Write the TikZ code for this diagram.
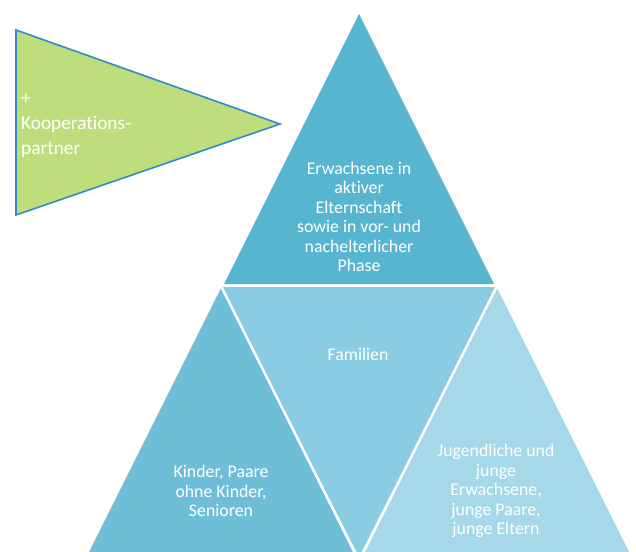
\documentclass[tikz,border=0pt]{standalone}
\usepackage{fontspec}
\setmainfont[Ligatures=NoCommon]{Carlito}
\definecolor{topblue}{RGB}{87,181,208}
\definecolor{leftblue}{RGB}{110,190,216}
\definecolor{midblue}{RGB}{138,204,225}
\definecolor{rightblue}{RGB}{165,216,232}
\definecolor{greenfill}{RGB}{190,222,125}
\definecolor{greenedge}{RGB}{52,137,200}
\begin{document}
\begin{tikzpicture}[x=1pt,y=-1pt,
  lbl/.style={text=white,align=center,font=\fontsize{17.8}{19.5}\selectfont,inner sep=0pt},
  gap/.style={draw=white,line width=2.5pt}]
\useasboundingbox (0,0) rectangle (636,551);
\begin{scope}
\clip (0,0) rectangle (636,551);
% top triangle
\fill[topblue] (359,14) -- (494,284) -- (224,284) -- cycle;
% bottom row
\fill[leftblue] (221.5,287) -- (356.5,557) -- (86.5,557) -- cycle;
\fill[midblue] (221.5,287) -- (496.5,287) -- (359,557) -- cycle;
\fill[rightblue] (496.5,287) -- (631.5,557) -- (361.5,557) -- cycle;
\draw[gap] (221.5,287) -- (359,561);
\draw[gap] (496.5,287) -- (359,561);
\draw[gap] (200,286) -- (520,286);
\end{scope}
% green triangle
\filldraw[fill=greenfill,draw=greenedge,line width=1.6pt,line join=miter]
  (16,30) -- (280,124) -- (16,215) -- cycle;
\node[text=white,align=left,anchor=north west,inner sep=0pt,font=\fontsize{19.3}{25}\selectfont] (koop) at (21,94) {+\\Kooperations-\\partner};
\node[lbl] (top) at (359,217) {Erwachsene in\\aktiver\\Elternschaft\\sowie in vor- und\\nachelterlicher\\Phase};
\node[lbl] (fam) at (358,354) {Familien};
\node[lbl] (left) at (221,491) {Kinder, Paare\\ohne Kinder,\\Senioren};
\node[lbl] (right) at (496,491) {Jugendliche und\\junge\\Erwachsene,\\junge Paare,\\junge Eltern};
\end{tikzpicture}
\end{document}
